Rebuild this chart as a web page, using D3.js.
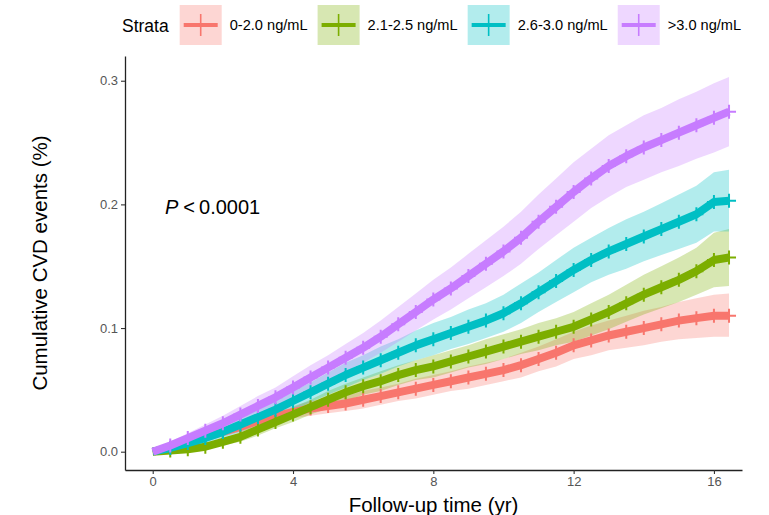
<!DOCTYPE html>
<html>
<head>
<meta charset="utf-8">
<script src="https://cdn.jsdelivr.net/npm/d3@7"></script>
<style>
    body { margin: 0; background: #fff; }
    svg { display: block; font-family: "Liberation Sans", Arial, sans-serif; }
</style>
</head>
<body>
<svg id="chart" width="769" height="515"></svg>
<script>
// Follow-up times (yr) for the estimates below
var times = [0, 0.5, 1, 1.5, 2, 2.5, 3, 3.5, 4, 4.5, 5, 5.5, 6, 6.5, 7, 7.5, 8,
    8.5, 9, 9.5, 10, 10.5, 11, 11.5, 12, 12.5, 13, 13.5, 14, 14.5, 15, 15.5, 16, 16.43];

var strata = ["0-2.0 ng/mL", "2.1-2.5 ng/mL", "2.6-3.0 ng/mL", ">3.0 ng/mL"];
var colors = ["#F8766D", "#7CAE00", "#00BFC4", "#C77CFF"];

// Cumulative events
var red = [0, .003, .007, .012, .016, .020, .025, .029, .032, .035, .037, .039, .042, .045, .048, .051, .054,
    .057, .060, .063, .066, .070, .075, .080, .086, .090, .094, .097, .100, .103, .106, .108, .110, .110];
var redLo = [0, .001, .004, .008, .012, .016, .020, .024, .027, .029, .031, .033, .035, .038, .041, .043, .046,
    .049, .051, .054, .057, .060, .065, .069, .075, .078, .082, .084, .086, .089, .091, .092, .093, .093];
var redHi = [0, .005, .010, .016, .020, .024, .030, .034, .037, .041, .043, .045, .049, .052, .055, .059, .062,
    .065, .069, .072, .075, .080, .085, .091, .097, .102, .106, .110, .114, .117, .121, .124, .127, .128];

var green = [0, .001, .002, .004, .008, .012, .018, .024, .030, .036, .042, .048, .053, .057, .062, .066, .069,
    .073, .077, .081, .085, .089, .093, .097, .101, .107, .113, .120, .127, .133, .139, .146, .155, .157];
var greenLo = [0, 0, 0, .002, .005, .008, .013, .019, .024, .030, .035, .041, .046, .049, .054, .058, .060,
    .064, .068, .071, .075, .079, .082, .086, .089, .094, .099, .105, .111, .116, .121, .127, .133, .134];
var greenHi = [0, .002, .004, .006, .011, .016, .023, .029, .036, .042, .049, .055, .060, .065, .070, .074, .078,
    .082, .086, .091, .095, .099, .104, .108, .113, .120, .127, .135, .143, .150, .157, .165, .177, .180];

var cyan = [0, .003, .007, .011, .016, .022, .028, .034, .041, .048, .055, .062, .068, .074, .080, .086, .091,
    .096, .101, .106, .112, .120, .129, .138, .147, .155, .162, .168, .174, .180, .186, .192, .202, .203];
var cyanLo = [0, .001, .004, .007, .011, .016, .022, .027, .033, .040, .046, .052, .058, .063, .069, .074, .078,
    .083, .087, .092, .097, .104, .113, .121, .129, .137, .143, .148, .154, .159, .164, .169, .178, .178];
var cyanHi = [0, .005, .010, .015, .021, .028, .034, .041, .049, .056, .064, .072, .078, .085, .091, .098, .104,
    .109, .115, .120, .127, .136, .145, .155, .165, .173, .181, .188, .194, .201, .208, .215, .226, .228];

var purple = [0, .005, .011, .017, .023, .030, .037, .044, .052, .060, .068, .076, .084, .093, .103, .113, .123,
    .132, .142, .152, .162, .173, .186, .198, .210, .221, .231, .239, .246, .252, .258, .264, .270, .275];
var purpleLo = [0, .002, .007, .012, .017, .023, .029, .036, .043, .050, .058, .065, .072, .080, .089, .098, .107,
    .115, .124, .133, .142, .152, .164, .175, .186, .197, .206, .214, .220, .226, .231, .237, .242, .247];
var purpleHi = [0, .008, .015, .022, .029, .037, .045, .052, .061, .070, .078, .087, .096, .106, .117, .128, .139,
    .149, .160, .171, .182, .194, .208, .221, .234, .245, .256, .264, .272, .278, .285, .291, .298, .303];

var xTicks = [0, 4, 8, 12, 16];
var yTicks = [0, 0.1, 0.2, 0.3];

// Build one record per stratum
var series = [
    { name: strata[0], color: colors[0], est: red, lo: redLo, hi: redHi },
    { name: strata[1], color: colors[1], est: green, lo: greenLo, hi: greenHi },
    { name: strata[2], color: colors[2], est: cyan, lo: cyanLo, hi: cyanHi },
    { name: strata[3], color: colors[3], est: purple, lo: purpleLo, hi: purpleHi }
];
series.forEach(function (s) {
    s.points = times.map(function (t, i) {
        return { t: t, v: s.est[i], lo: s.lo[i], hi: s.hi[i] };
    });
});

var svg = d3.select("#chart");

// Panel box (window.top is read-only, so keep these names distinct)
var panelLeft = 125, panelRight = 742, panelTop = 56, panelBottom = 470;

var x = d3.scaleLinear().domain([-0.79, 16.8]).range([panelLeft, panelRight]);
var y = d3.scaleLinear().domain([-0.0148, 0.32]).range([panelBottom, panelTop]);

// Confidence ribbons first, so every step line sits on top
var area = d3.area()
    .x(function (d) { return x(d.t); })
    .y0(function (d) { return y(d.lo); })
    .y1(function (d) { return y(d.hi); });

svg.append("g").selectAll("path").data(series).enter()
    .append("path")
    .attr("d", function (s) { return area(s.points); })
    .attr("fill", function (s) { return s.color; })
    .attr("fill-opacity", 0.3);

var line = d3.line()
    .x(function (d) { return x(d.t); })
    .y(function (d) { return y(d.v); });

var lines = svg.append("g");
series.forEach(function (s) {
    lines.append("path")
        .attr("d", line(s.points))
        .attr("fill", "none")
        .attr("stroke", s.color)
        .attr("stroke-width", 8)
        .attr("stroke-linejoin", "round");

    // Censoring marks
    lines.append("g").selectAll("path").data(s.points.slice(1)).enter()
        .append("path")
        .attr("d", function (d) {
            var cx = x(d.t), cy = y(d.v);
            return "M" + (cx - 7) + "," + cy + "H" + (cx + 7) + "M" + cx + "," + (cy - 7) + "V" + (cy + 7);
        })
        .attr("stroke", s.color)
        .attr("stroke-width", 2);
});

// Axes
var xAxis = svg.append("g")
    .attr("transform", "translate(0," + panelBottom + ")")
    .call(d3.axisBottom(x).tickValues(xTicks).tickSize(4).tickSizeOuter(0).tickPadding(3));
var yAxis = svg.append("g")
    .attr("transform", "translate(" + panelLeft + ",0)")
    .call(d3.axisLeft(y).tickValues(yTicks).tickFormat(d3.format(".1f")).tickSize(4).tickSizeOuter(0).tickPadding(3));

[xAxis, yAxis].forEach(function (a) {
    a.select(".domain").attr("stroke", "#222").attr("stroke-width", 1.3);
    a.selectAll(".tick line").attr("stroke", "#333").attr("stroke-width", 1.1);
    a.selectAll(".tick text")
        .attr("fill", "#555")
        .style("font-size", "13px")
        .style("font-family", "'Liberation Sans', Arial, sans-serif");
});

// Axis titles
svg.append("text")
    .attr("x", (panelLeft + panelRight) / 2)
    .attr("y", 512)
    .attr("text-anchor", "middle")
    .style("font-size", "20.5px")
    .text("Follow-up time (yr)");

svg.append("text")
    .attr("transform", "translate(47," + ((panelTop + panelBottom) / 2) + ") rotate(-90)")
    .attr("text-anchor", "middle")
    .style("font-size", "20.5px")
    .text("Cumulative CVD events (%)");

// p-value annotation
var p = svg.append("text")
    .attr("x", 165)
    .attr("y", 214)
    .style("font-size", "20px");
p.append("tspan").style("font-style", "italic").text("P");
p.append("tspan").attr("dx", 5).text("<");
p.append("tspan").attr("dx", 4).text("0.0001");

// Legend across the top
var legend = svg.append("g");
var legendTitle = legend.append("text")
    .attr("x", 122)
    .attr("y", 32)
    .style("font-size", "17.5px")
    .text("Strata");

var lx = 122 + legendTitle.node().getComputedTextLength() + 11;
series.forEach(function (s) {
    var key = legend.append("g").attr("transform", "translate(" + lx + ",5)");
    key.append("rect")
        .attr("width", 42)
        .attr("height", 40)
        .attr("fill", s.color)
        .attr("fill-opacity", 0.3);
    key.append("line")
        .attr("x1", 4).attr("x2", 38)
        .attr("y1", 20).attr("y2", 20)
        .attr("stroke", s.color)
        .attr("stroke-width", 4);
    key.append("line")
        .attr("x1", 21).attr("x2", 21)
        .attr("y1", 9).attr("y2", 31)
        .attr("stroke", s.color)
        .attr("stroke-width", 1.6);
    var label = legend.append("text")
        .attr("x", lx + 50)
        .attr("y", 30)
        .style("font-size", "14.6px")
        .text(s.name);
    lx += 50 + label.node().getComputedTextLength() + 10;
});
</script>
</body>
</html>
